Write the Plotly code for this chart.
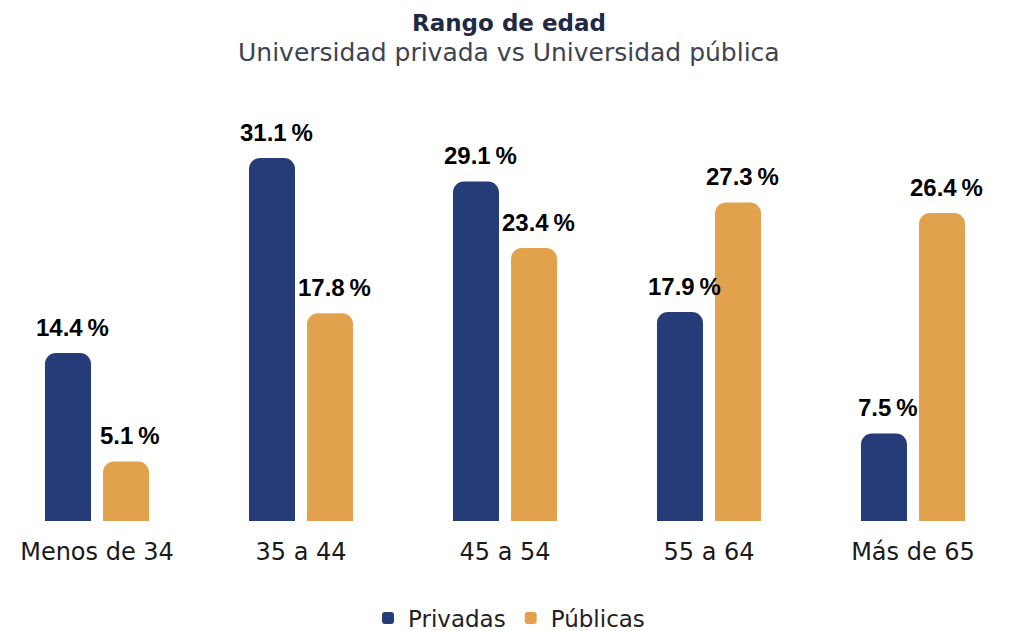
import plotly.graph_objects as go

categories = ["Menos de 34", "35 a 44", "45 a 54", "55 a 64", "Más de 65"]
privadas = [14.4, 31.1, 29.1, 17.9, 7.5]
publicas = [5.1, 17.8, 23.4, 27.3, 26.4]
series_names = ["Privadas", "Públicas"]
colors = ["#253C78", "#E2A24D"]

FONT = "DejaVu Sans"
LBL = "Liberation Sans"
fig = go.Figure()
for name, vals, col in zip(series_names, [privadas, publicas], colors):
    fig.add_trace(go.Bar(x=categories, y=vals, name=name, marker_color=col,
                         marker_line_width=0, hoverinfo="skip"))

# value labels
for vals, xs in [(privadas, -29), (publicas, 29)]:
    for c, v in zip(categories, vals):
        fig.add_annotation(x=c, y=v, text=f"<b>{v:.1f}\u2009%</b>", showarrow=False,
                           xanchor="center", yanchor="bottom", xshift=xs + 4, yshift=10,
                           font=dict(family=LBL, size=24, color="#000000"))

fig.add_annotation(xref="paper", yref="paper", x=0.5, y=1, yshift=57, showarrow=False,
                   text="<b>Rango de edad</b>", xanchor="center", yanchor="middle",
                   borderpad=0,
                   font=dict(family=FONT, size=23, color="#1F2A44"))
fig.add_annotation(xref="paper", yref="paper", x=0.5, y=1, yshift=28, showarrow=False,
                   text="Universidad privada vs Universidad pública", xanchor="center", yanchor="middle",
                   font=dict(family=FONT, size=25, color="#3E4350"))

fig.update_layout(
    width=1002, height=640,
    margin=dict(l=0, r=0, t=72, b=127),
    paper_bgcolor="white", plot_bgcolor="white",
    barmode="group", bargap=0.431, bargroupgap=0.207, barcornerradius=11,
    showlegend=True,
    legend=dict(orientation="h", x=0.5, xanchor="center", y=-0.22, yanchor="middle",
                font=dict(family=FONT, size=23, color="#222222"), itemwidth=30,
                traceorder="normal"),
    xaxis=dict(range=[-0.4363, 4.4755], showgrid=False, showline=False, zeroline=False,
               ticks="", ticklabelstandoff=14,
               tickfont=dict(family=FONT, size=24, color="#1A1A1A")),
    yaxis=dict(range=[0, 37.79], visible=False),
)
fig.write_html("out.html")
